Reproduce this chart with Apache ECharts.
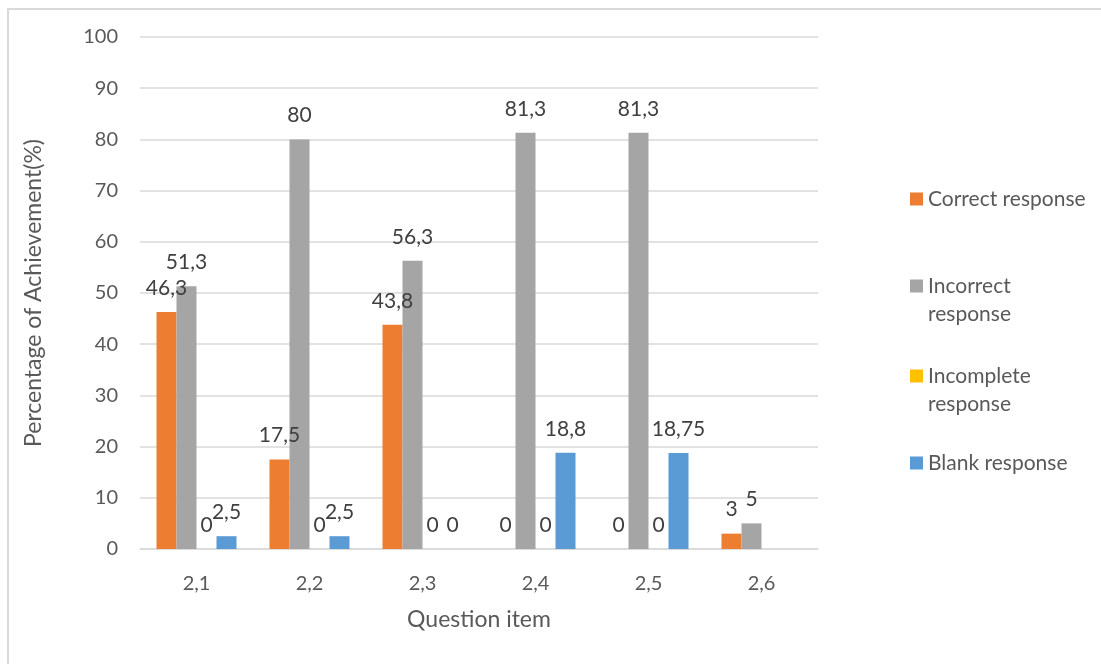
<!DOCTYPE html>
<html>
<head>
<meta charset="utf-8">
<script src="https://cdn.jsdelivr.net/npm/echarts@6/dist/echarts.min.js"></script>
<style>
html,body{margin:0;padding:0;background:#fff;}
#frame{position:absolute;left:7px;top:8px;width:1110px;height:680px;border:2px solid #d9d9d9;box-sizing:border-box;}
#chart{position:absolute;left:0;top:0;width:1101px;height:664px;}
</style>
</head>
<body>
<div id="frame"></div>
<div id="chart"></div>
<script>
const categories = ['2,1', '2,2', '2,3', '2,4', '2,5', '2,6'];
const correct    = [46.3, 17.5, 43.8, 0, 0, 3];
const incorrect  = [51.3, 80, 56.3, 81.3, 81.3, 5];
const incomplete = [0, 0, 0, 0, 0, null];
const blank      = [2.5, 2.5, 0, 18.8, 18.75, null];
const seriesNames = ['Correct response', 'Incorrect response', 'Incomplete response', 'Blank response'];
const legendLines = {
  'Correct response': 'Correct response',
  'Incorrect response': '\nIncorrect\nresponse',
  'Incomplete response': '\nIncomplete\nresponse',
  'Blank response': 'Blank response'
};
const colors = ['#ED7D31', '#A5A5A5', '#FFC000', '#5B9BD5'];
const yTicks = { min: 0, max: 100, interval: 10 };

const FONT = 'Lato, "Open Sans", sans-serif';
const chart = echarts.init(document.getElementById('chart'), null, { renderer: 'canvas' });

function mkSeries(name, data, color) {
  return {
    name: name, type: 'bar', data: data, barWidth: 20, barGap: '0%',
    itemStyle: { color: color },
    label: {
      show: true, position: 'top', distance: 13, lineHeight: 22,
      fontFamily: FONT, fontSize: 21, color: '#404040',
      formatter: p => (p.value === null || p.value === undefined) ? '' : String(p.value).replace('.', ',')
    }
  };
}

const legendTops = [180, 239, 329, 444];
const legends = seriesNames.map((n, i) => ({
  data: [n], orient: 'vertical', left: 905, top: legendTops[i],
  itemWidth: 13, itemHeight: 13, itemGap: 6, icon: 'rect',
  formatter: nm => legendLines[nm],
  textStyle: { fontFamily: FONT, fontSize: 21, color: '#595959', lineHeight: 28 }
}));

chart.setOption({
  animation: false,
  color: colors,
  grid: { left: 140, right: 283, top: 37, bottom: 115, containLabel: false },
  legend: legends,
  xAxis: {
    type: 'category', data: categories,
    name: 'Question item', nameLocation: 'middle', nameGap: 59,
    nameTextStyle: { fontFamily: FONT, fontSize: 23, color: '#595959' },
    axisLine: { lineStyle: { color: '#d9d9d9', width: 1.5 } },
    axisTick: { show: false },
    axisLabel: { fontFamily: FONT, fontSize: 20, color: '#595959', margin: 25 }
  },
  yAxis: {
    type: 'value', min: yTicks.min, max: yTicks.max, interval: yTicks.interval,
    name: 'Percentage of Achievement(%)', nameLocation: 'middle', nameGap: 95,
    nameTextStyle: { fontFamily: FONT, fontSize: 23, color: '#595959' },
    axisLine: { show: false }, axisTick: { show: false },
    axisLabel: { fontFamily: FONT, fontSize: 20, color: '#595959', margin: 22 },
    splitLine: { lineStyle: { color: '#d9d9d9', width: 1.5 } }
  },
  series: [
    mkSeries(seriesNames[0], correct, colors[0]),
    mkSeries(seriesNames[1], incorrect, colors[1]),
    mkSeries(seriesNames[2], incomplete, colors[2]),
    mkSeries(seriesNames[3], blank, colors[3])
  ]
});
</script>
</body>
</html>
